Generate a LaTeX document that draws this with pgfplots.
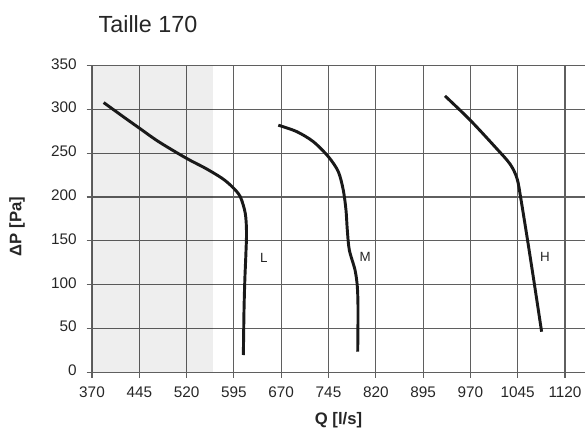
\documentclass[border=0pt]{standalone}
\usepackage{pgfplots}
\pgfplotsset{compat=1.18}
\usepackage{fontspec}
\setmainfont{Liberation Sans}
\definecolor{gridc}{RGB}{95,95,95}
\begin{document}
\begin{tikzpicture}
\path[use as bounding box] (0,0) rectangle (438.75pt,321pt);
\begin{axis}[
  at={(69pt,41.8pt)}, anchor=south west,
  scale only axis, width=369.75pt, height=230pt,
  xmin=370, xmax=1151.7, ymin=0, ymax=350,
  xtick={370,445,520,595,670,745,820,895,970,1045,1120},
  ytick={0,50,100,150,200,250,300,350},
  axis x line*=bottom, axis y line*=left,
  axis line style={gridc, line width=0.8pt},
  grid=major,
  major grid style={gridc, line width=0.8pt},
  tick align=outside, major tick length=4pt,
  tick style={gridc, line width=0.8pt},
  /pgf/number format/assume math mode=true,
  /pgf/number format/set thousands separator={},
  typeset ticklabels with strut,
  tick label style={font=\fontsize{11.5}{13}\selectfont, text=black!85},
  xticklabel style={yshift=-2pt},
  yticklabel style={xshift=-4pt},
  xlabel={\textbf{Q [l/s]}},
  ylabel={\textbf{ΔP [Pa]}},
  label style={font=\fontsize{12.5}{14}\selectfont, text=black!85},
  xlabel style={at={(axis description cs:0.5,0)}, anchor=center, yshift=-36pt},
  ylabel style={at={(axis description cs:-0.152,0.475)}, anchor=center, rotate=0},
  title={Taille 170},
  title style={at={(axis description cs:0.1136,1.083)}, anchor=base, font=\fontsize{17.5}{20}\selectfont, text=black!85},
]
\addplot[fill=black, fill opacity=0.065, draw=none] coordinates {(370,350) (562,350)} \closedcycle;

\addplot[black!90, line width=2.2pt, smooth, tension=0.5] coordinates {
(388.5,307.8) (422.8,290) (444,279.2) (475.6,263.2) (519.5,244.3) (549.7,232.9) (576,221.5) (592,211.9) (605,200.5) (613,181.5) (615,160) (614,135) (612.3,105) (611,70) (610,19.7)};
\addplot[black!90, line width=2.2pt, smooth, tension=0.5] coordinates {
(665.4,282) (694.5,274.7) (720.9,263.2) (744.7,246.1) (760.5,229) (768.4,208) (772.7,185.3) (774.8,162.4) (778,139.6) (787,116.8) (790.7,97.7) (791.8,71.1) (791.3,23.5)};
\addplot[black!90, line width=2.2pt, smooth, tension=0.5] coordinates {
(929.7,315.4) (969.3,288) (1010,256.5) (1033,237.5) (1044,221) (1050,198) (1061,149) (1072,98) (1082.9,46.3)};

\node[font=\fontsize{10}{12}\selectfont, text=black!85] at (axis cs:642.6,130) {L};
\node[font=\fontsize{10}{12}\selectfont, text=black!85] at (axis cs:803,132) {M};
\node[font=\fontsize{10}{12}\selectfont, text=black!85] at (axis cs:1088,132) {H};
\end{axis}
\end{tikzpicture}
\end{document}
